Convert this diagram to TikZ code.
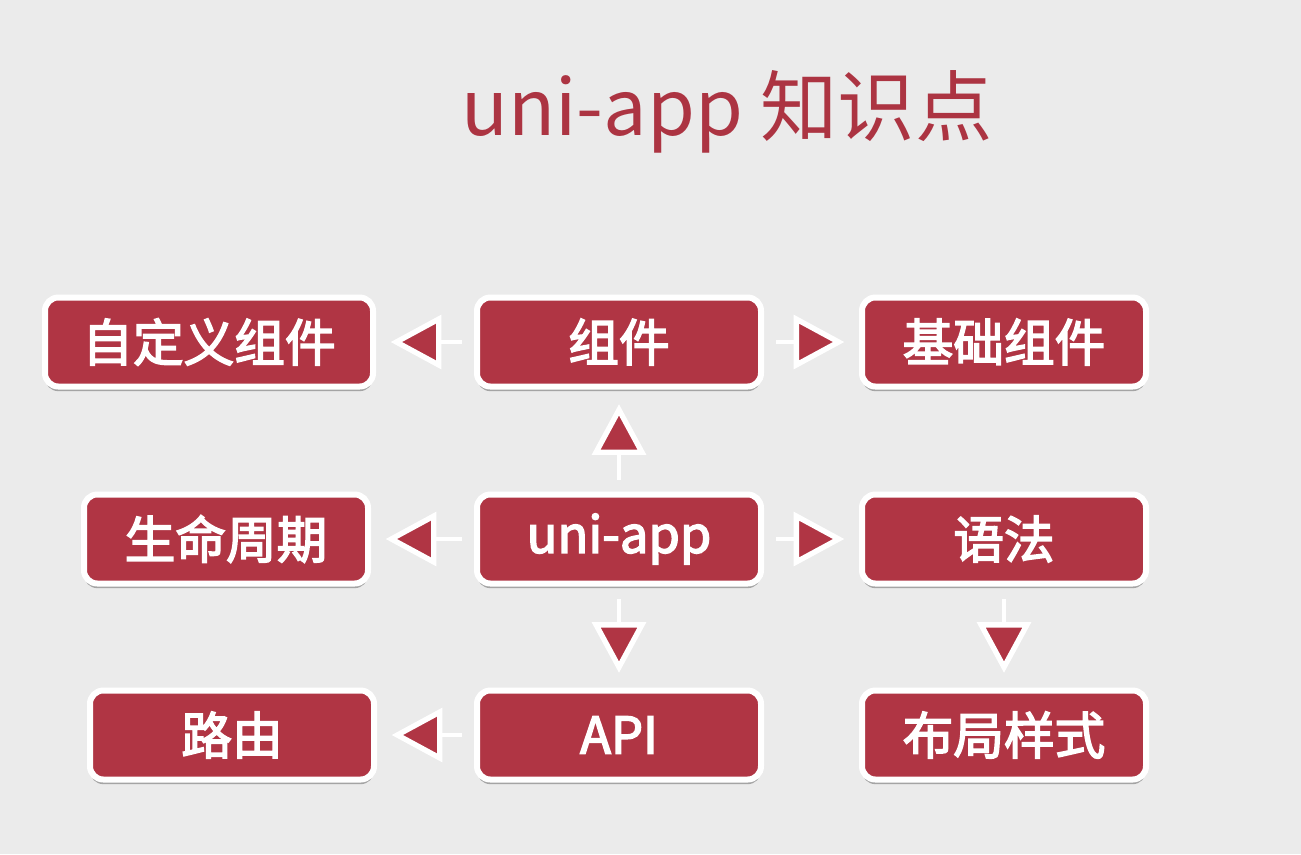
\documentclass[tikz,border=0pt]{standalone}
\usepackage{fontspec}
\setmainfont{Noto Sans CJK SC}
\newfontfamily\boxfont{Noto Sans CJK SC}[FakeBold=3]
\usepackage{xcolor}
\usetikzlibrary{arrows.meta,shadows}
\definecolor{ured}{RGB}{176,53,68}
\definecolor{utitle}{RGB}{172,52,66}
\definecolor{ubg}{RGB}{235,235,235}

\begin{document}
\begin{tikzpicture}[x=0.75pt,y=0.75pt,yscale=-1,xscale=1,
  box/.style={rectangle,rounded corners=10pt,fill=ured,draw=white,line width=4.5pt,
    minimum width=213pt,minimum height=66.75pt,inner sep=0pt,text=white,
    font=\boxfont\fontsize{38}{40}\selectfont,
    drop shadow={shadow xshift=0pt,shadow yshift=-3.5pt,opacity=0.3,fill=black}},
  conn/.style={draw=white,line width=3.5pt,shorten <=9pt,shorten >=11pt,
    -{Triangle[length=38pt,width=40pt,line width=4pt,fill=ured]}}
]

\fill[ubg] (0,0) rectangle (1301,854);
\useasboundingbox (0,0) rectangle (1301,854);

% title
\node[text=utitle,font=\fontsize{58}{62}\selectfont] (title) at (727,112) {uni-app 知识点};

% row 1
\node[box,minimum width=246pt] (custom) at (209,342) {自定义组件};
\node[box] (comp) at (619,342) {组件};
\node[box] (basic) at (1004,342) {基础组件};

% row 2
\node[box] (life) at (226,539) {生命周期};
\node[box] (uni) at (619,539) {uni-app};
\node[box] (syntax) at (1004,539) {语法};

% row 3
\node[box] (route) at (232,735) {路由};
\node[box] (api) at (619,735) {API};
\node[box] (layout) at (1004,735) {布局样式};

\draw[conn] (comp) -- (custom);
\draw[conn] (comp) -- (basic);
\draw[conn] (uni) -- (comp);
\draw[conn] (uni) -- (life);
\draw[conn] (uni) -- (syntax);
\draw[conn] (uni) -- (api);
\draw[conn] (syntax) -- (layout);
\draw[conn] (api) -- (route);

\end{tikzpicture}
\end{document}
